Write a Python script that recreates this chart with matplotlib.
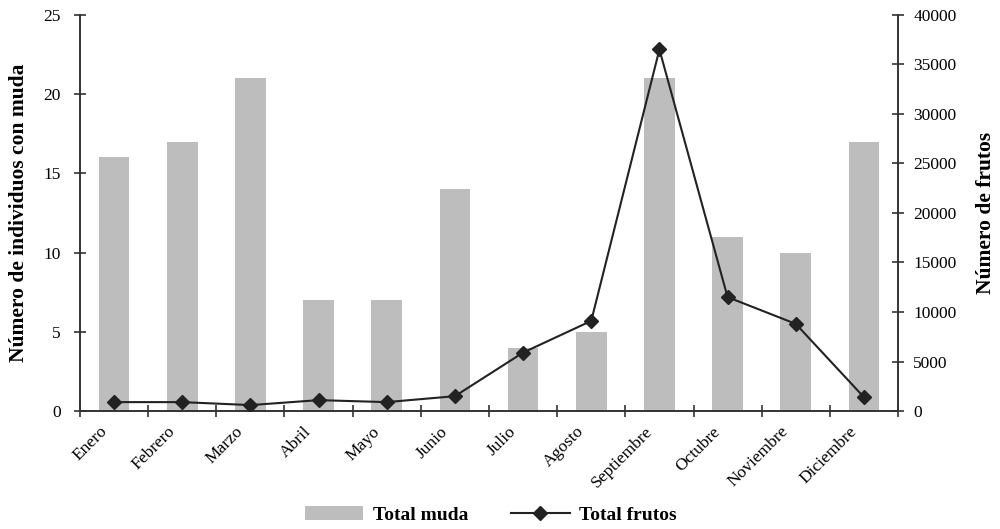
import numpy as np
import matplotlib.pyplot as plt
import matplotlib.transforms as mtransforms
from matplotlib.lines import Line2D
from matplotlib.patches import Patch

meses = ['Enero', 'Febrero', 'Marzo', 'Abril', 'Mayo', 'Junio', 'Julio',
         'Agosto', 'Septiembre', 'Octubre', 'Noviembre', 'Diciembre']
total_muda = [16, 17, 21, 7, 7, 14, 4, 5, 21, 11, 10, 17]
total_frutos = [900, 900, 600, 1100, 900, 1500, 5900, 9100,
                36500, 11500, 8800, 1400]

plt.rcParams['font.family'] = ['Liberation Serif', 'DejaVu Serif']

fig = plt.figure(figsize=(10, 5.29), dpi=100)
ax = fig.add_axes([0.08, 0.223, 0.818, 0.749])
ax2 = ax.twinx()

x = np.arange(len(meses))
ax.bar(x, total_muda, width=0.45, color='#bdbdbd', edgecolor='none', zorder=1)
ax2.plot(x, total_frutos, color='#222222', lw=1.5, marker='D', ms=7,
         markerfacecolor='#222222', zorder=3)

ax.set_xlim(-0.5, len(meses) - 0.5)
ax.set_ylim(0, 25)
ax2.set_ylim(0, 40000)
ax.set_yticks(range(0, 26, 5))
ax2.set_yticks(range(0, 40001, 5000))

# month labels sit under the bars, tick marks between categories
ax.set_xticks(x)
ax.set_xticklabels(meses, rotation=45, ha='right', rotation_mode='anchor',
                   fontsize=12.5)
ax.tick_params(axis='x', length=0, pad=9)
shift = mtransforms.ScaledTranslation(-15 / 100, 0, fig.dpi_scale_trans)
for lab in ax.get_xticklabels():
    lab.set_transform(lab.get_transform() + shift)
ax.set_xticks(np.arange(-0.5, len(meses), 1), minor=True)
ax.tick_params(axis='x', which='minor', direction='inout', length=8,
               width=1.2, color='#333333')

ax.tick_params(axis='y', direction='inout', length=8, width=1.2, pad=10,
               labelsize=12.5, color='#333333')
ax2.tick_params(axis='y', direction='inout', length=8, width=1.2, pad=7,
                labelsize=12.5, color='#333333')

for a in (ax, ax2):
    a.spines['top'].set_visible(False)
    for s in ('left', 'right', 'bottom'):
        a.spines[s].set_color('#333333')
        a.spines[s].set_linewidth(1.2)

ax.set_ylabel('Número de individuos con muda', fontsize=15.5,
              fontweight='bold', labelpad=10)
ax2.set_ylabel('Número de frutos', fontsize=15.5, fontweight='bold',
               rotation=90, labelpad=14)

handles = [Patch(facecolor='#bdbdbd', edgecolor='none'),
           Line2D([], [], color='#222222', lw=1.5, marker='D', ms=7)]
fig.legend(handles, ['Total muda', 'Total frutos'], loc='center',
           bbox_to_anchor=(0.491, 0.026), ncol=2, frameon=False,
           prop={'size': 14, 'weight': 'bold'}, handlelength=3.0,
           handletextpad=0.5, columnspacing=2.2)

fig.savefig('out.png', dpi=100)
